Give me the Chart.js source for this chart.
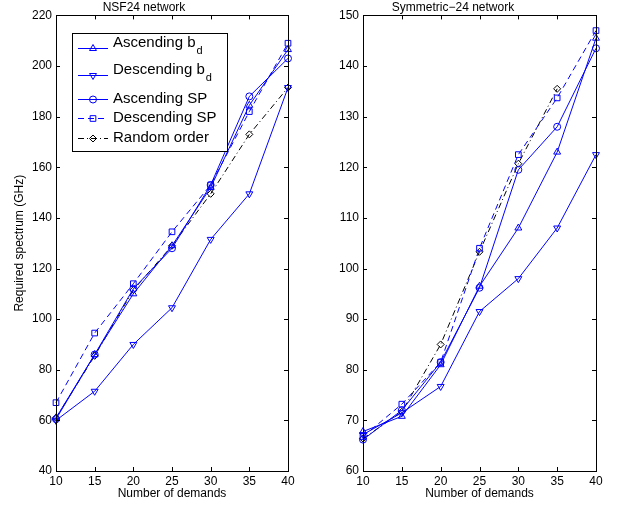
<!DOCTYPE html>
<html>
<head>
<meta charset="utf-8">
<script src="https://cdn.jsdelivr.net/npm/chart.js@4.4.1/dist/chart.umd.min.js"></script>
<style>
    html, body { margin: 0; padding: 0; background: #fff; }
    #wrap { position: relative; width: 618px; height: 506px; }
    canvas { position: absolute; top: 0; }
    #nsfChart { left: 0; }
    #symChart { left: 310px; }
</style>
</head>
<body>
<div id="wrap">
    <canvas id="nsfChart" width="310" height="506"></canvas>
    <canvas id="symChart" width="308" height="506"></canvas>
</div>
<script>
// 수요 개수 (x축)
const demands = [10, 15, 20, 25, 30, 35, 40];

// NSF24 네트워크 - 필요 스펙트럼 (GHz)
const nsfAscBd   = [61, 86, 110, 129, 152, 184.5, 206.5];
const nsfDescBd  = [60, 71.5, 90, 104.5, 131.5, 149.5, 191.5];
const nsfAscSP   = [60.5, 86, 112, 128, 153, 188, 203];
const nsfDescSP  = [67, 94.5, 114, 134.5, 153, 182, 209];
const nsfRandom  = [61, 85.5, 111.5, 129, 149.5, 173, 191.5];

// Symmetric-24 네트워크 - 필요 스펙트럼 (GHz)
const symAscBd   = [67.8, 70.8, 81, 96.5, 108, 123, 145.5];
const symDescBd  = [67.2, 71.5, 76.7, 91.5, 98, 108, 122.5];
const symAscSP   = [66.2, 72, 81.5, 96.2, 119.5, 128, 143.5];
const symDescSP  = [66.8, 73.2, 81.5, 104, 122.5, 133.7, 147];
const symRandom  = [66.4, 71.7, 85, 103.3, 120.7, 135.5, null];

const BLUE = '#0000ff';
const FONT = '"Liberation Sans", Arial, Helvetica, sans-serif';

/**
 * 시리즈 스타일 생성
 */
function makeDatasets(ascBd, descBd, ascSP, descSP, random) {
    const base = {
        borderWidth: 1,
        pointRadius: 4,
        pointBorderWidth: 1,
        pointBackgroundColor: 'rgba(0,0,0,0)',
        fill: false,
        tension: 0
    };
    return [
        Object.assign({}, base, { label: 'Ascending b', sub: 'd', data: ascBd, borderColor: BLUE, pointBorderColor: BLUE, pointStyle: 'triangle' }),
        Object.assign({}, base, { label: 'Descending b', sub: 'd', data: descBd, borderColor: BLUE, pointBorderColor: BLUE, pointStyle: 'triangle', pointRotation: 180 }),
        Object.assign({}, base, { label: 'Ascending SP', data: ascSP, borderColor: BLUE, pointBorderColor: BLUE, pointStyle: 'circle', pointRadius: 3.5 }),
        Object.assign({}, base, { label: 'Descending SP', data: descSP, borderColor: BLUE, pointBorderColor: BLUE, pointStyle: 'rect', borderDash: [6, 4] }),
        Object.assign({}, base, { label: 'Random order', data: random, borderColor: '#000', pointBorderColor: '#000', pointStyle: 'rectRot', pointRadius: 3.5, borderDash: [6, 3, 1, 3] })
    ];
}

// 축 상자와 안쪽 눈금 (상하좌우)
const boxTicksPlugin = {
    id: 'boxTicks',
    afterDraw(chart) {
        const { ctx, chartArea: a, scales } = chart;
        const len = 4;
        ctx.save();
        ctx.strokeStyle = '#000';
        ctx.lineWidth = 1;
        ctx.setLineDash([]);
        ctx.strokeRect(Math.round(a.left) + 0.5, Math.round(a.top) + 0.5,
            Math.round(a.right - a.left), Math.round(a.bottom - a.top));
        ctx.beginPath();
        scales.x.ticks.forEach((t, i) => {
            const px = Math.round(scales.x.getPixelForTick(i)) + 0.5;
            ctx.moveTo(px, a.bottom); ctx.lineTo(px, a.bottom - len);
            ctx.moveTo(px, a.top); ctx.lineTo(px, a.top + len);
        });
        scales.y.ticks.forEach(t => {
            const py = Math.round(scales.y.getPixelForValue(t.value)) + 0.5;
            ctx.moveTo(a.left, py); ctx.lineTo(a.left + len, py);
            ctx.moveTo(a.right, py); ctx.lineTo(a.right - len, py);
        });
        ctx.stroke();
        ctx.restore();
    }
};

// 플롯 내부 범례 (아래첨자 포함)
const innerLegendPlugin = {
    id: 'innerLegend',
    afterDatasetsDraw(chart, args, opts) {
        if (!opts.show) return;
        const ctx = chart.ctx;
        const box = { x: 72, y: 33, w: 155, h: 118 };
        const rows = [48, 75, 99, 118, 138];
        ctx.save();
        ctx.fillStyle = '#fff';
        ctx.fillRect(box.x, box.y, box.w, box.h);
        ctx.strokeStyle = '#000';
        ctx.lineWidth = 1;
        ctx.strokeRect(box.x + 0.5, box.y + 0.5, box.w, box.h);

        chart.data.datasets.forEach((ds, i) => {
            const y = rows[i];
            ctx.strokeStyle = ds.borderColor;
            ctx.lineWidth = 1;
            ctx.setLineDash(ds.borderDash || []);
            ctx.beginPath();
            ctx.moveTo(78, y + 0.5);
            ctx.lineTo(108, y + 0.5);
            ctx.stroke();
            ctx.setLineDash([]);
            ctx.fillStyle = 'rgba(0,0,0,0)';
            Chart.helpers.drawPoint(ctx, {
                pointStyle: ds.pointStyle,
                rotation: ds.pointRotation || 0,
                radius: ds.pointRadius,
                borderWidth: 1
            }, 93, y + 0.5);

            ctx.fillStyle = '#000';
            ctx.textAlign = 'left';
            ctx.textBaseline = 'middle';
            ctx.font = '15px ' + FONT;
            if (ds.sub) {
                ctx.fillText(ds.label, 113, y - 5);
                const w = ctx.measureText(ds.label).width;
                ctx.font = '11px ' + FONT;
                ctx.fillText(ds.sub, 113 + w + 1, y + 3);
            } else {
                ctx.fillText(ds.label, 113, y);
            }
        });
        ctx.restore();
    }
};

function createSpectrumChart(canvasId, datasets, cfg) {
    const ctx = document.getElementById(canvasId).getContext('2d');
    return new Chart(ctx, {
        type: 'line',
        data: { labels: demands, datasets: datasets },
        plugins: [boxTicksPlugin, innerLegendPlugin],
        options: {
            responsive: false,
            animation: false,
            layout: { padding: { left: 0, right: 22, top: 0, bottom: 0 } },
            plugins: {
                legend: { display: false },
                tooltip: { enabled: false },
                innerLegend: { show: cfg.legend },
                title: {
                    display: true,
                    text: cfg.title,
                    color: '#000',
                    font: { family: FONT, size: 12, weight: 'normal' },
                    padding: { top: 0, bottom: 1 }
                }
            },
            scales: {
                x: {
                    type: 'category',
                    offset: false,
                    grid: { display: false, drawTicks: false },
                    border: { display: false },
                    ticks: { color: '#000', font: { family: FONT, size: 12 }, padding: 3, maxRotation: 0 },
                    title: {
                        display: true,
                        text: 'Number of demands',
                        color: '#000',
                        font: { family: FONT, size: 12 },
                        padding: { top: 0, bottom: 5 }
                    },
                    afterFit: s => { s.height = 35; }
                },
                y: {
                    min: cfg.min,
                    max: cfg.max,
                    grid: { display: false, drawTicks: false },
                    border: { display: false },
                    ticks: { stepSize: cfg.step, color: '#000', font: { family: FONT, size: 12 }, padding: 4 },
                    title: {
                        display: !!cfg.yTitle,
                        text: cfg.yTitle || '',
                        color: '#000',
                        font: { family: FONT, size: 12 },
                        padding: { top: 12, bottom: 0 }
                    },
                    afterFit: s => { s.width = cfg.yWidth; }
                }
            }
        }
    });
}

createSpectrumChart('nsfChart',
    makeDatasets(nsfAscBd, nsfDescBd, nsfAscSP, nsfDescSP, nsfRandom),
    { title: 'NSF24 network', min: 40, max: 220, step: 20, yWidth: 56, yTitle: 'Required spectrum (GHz)', legend: true });

createSpectrumChart('symChart',
    makeDatasets(symAscBd, symDescBd, symAscSP, symDescSP, symRandom),
    { title: 'Symmetric\u221224 network', min: 60, max: 150, step: 10, yWidth: 53, legend: false });
</script>
</body>
</html>
